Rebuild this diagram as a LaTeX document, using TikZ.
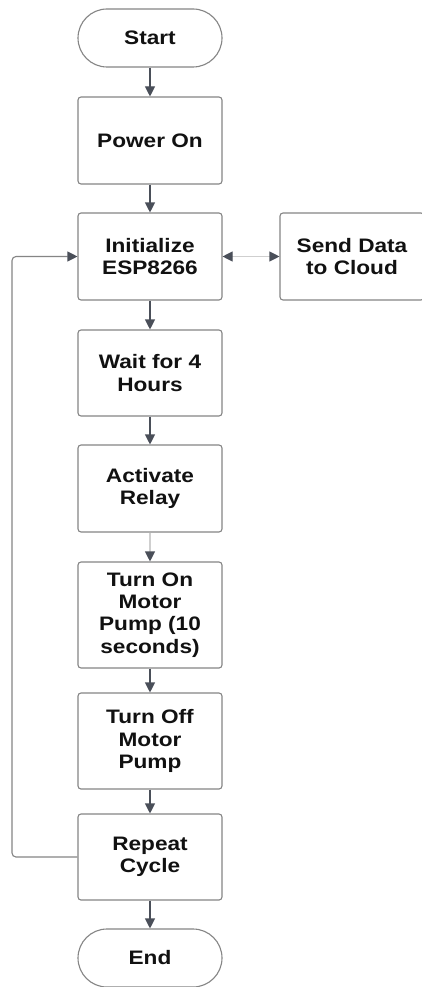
\documentclass[tikz,border=0pt]{standalone}
\usepackage{fontspec}
\setmainfont[FakeStretch=1.16]{Liberation Sans}
\usetikzlibrary{arrows.meta}
\definecolor{edgegray}{HTML}{858585}
\definecolor{arrowink}{HTML}{4A4F59}
\definecolor{faintline}{HTML}{CFCFCF}
\definecolor{textink}{HTML}{111111}
\tikzset{
  procbox/.style={draw=edgegray, line width=1.1pt, rounded corners=3pt,
    minimum width=144pt, inner sep=0pt, align=center, text=textink,
    font=\fontsize{19.5pt}{22.4pt}\selectfont\bfseries},
  terminal/.style={procbox, rounded corners=29pt, minimum height=58pt},
  flow/.style={draw=arrowink, line width=1.1pt,
    -{Triangle[width=10pt,length=10pt]}},
  loopline/.style={draw=edgegray, line width=1.1pt, rounded corners=4pt,
    -{Triangle[width=10pt,length=10pt,color=arrowink]}},
  linkline/.style={draw=faintline, line width=1.1pt,
    {Triangle[width=10pt,length=10pt,color=arrowink]}-{Triangle[width=10pt,length=10pt,color=arrowink]}}
}
\begin{document}
\begin{tikzpicture}[x=1pt,y=-1pt]
  \useasboundingbox[fill=white] (0,0) rectangle (421,987);

  % main column of steps
  \node[terminal] (start) at (150,38) {Start};
  \node[procbox, minimum height=87pt] (power) at (150,140.5) {Power On};
  \node[procbox, minimum height=87pt] (init) at (150,256.5) {Initialize\\ESP8266};
  \node[procbox, minimum height=87pt] (send) at (352,256.5) {Send Data\\to Cloud};
  \node[procbox, minimum height=86pt] (wait) at (150,373) {Wait for 4\\Hours};
  \node[procbox, minimum height=87pt] (relay) at (150,488.5) {Activate\\Relay};
  \node[procbox, minimum height=106pt] (pumpon) at (150,615) {Turn On\\Motor\\Pump (10\\seconds)};
  \node[procbox, minimum height=96pt] (pumpoff) at (150,741) {Turn Off\\Motor\\Pump};
  \node[procbox, minimum height=86pt] (repeat) at (150,857) {Repeat\\Cycle};
  \node[terminal] (end) at (150,958) {End};

  % connectors
  \draw[flow] (start) -- (power);
  \draw[flow] (power) -- (init);
  \draw[flow] (init) -- (wait);
  \draw[flow] (wait) -- (relay);
  \draw[flow, draw=faintline, -{Triangle[width=10pt,length=10pt,color=arrowink]}] (relay) -- (pumpon);
  \draw[flow] (pumpon) -- (pumpoff);
  \draw[flow] (pumpoff) -- (repeat);
  \draw[flow] (repeat) -- (end);
  \draw[linkline] (init) -- (send);

  % loop back from Repeat Cycle to Initialize
  \coordinate (loopx) at (12,0);
  \draw[loopline] (repeat.west) -- (repeat.west -| loopx) -- (init.west -| loopx) -- (init.west);
\end{tikzpicture}
\end{document}
